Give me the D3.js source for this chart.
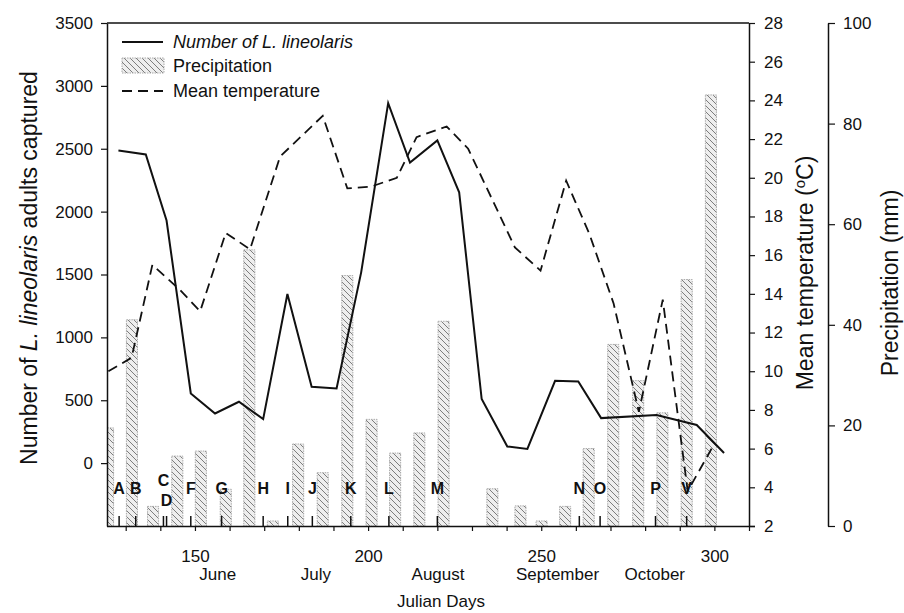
<!DOCTYPE html>
<html>
<head>
<meta charset="utf-8">
<script src="https://cdn.jsdelivr.net/npm/d3@7/dist/d3.min.js"></script>
<style>
  html, body { margin: 0; padding: 0; background: #fff; }
  svg { display: block; }
  text { font-family: "Liberation Sans", Arial, Helvetica, sans-serif; fill: #111; }
</style>
</head>
<body>
<svg id="chart" width="904" height="613"></svg>
<script>
// ---------------- data ----------------
const captureDays   = [127.9, 135.8, 141.8, 148.8, 155.8, 162.7, 169.7, 176.7, 183.7, 190.9, 198.0, 205.8, 212.1, 220.0, 226.3, 232.8, 240.2, 246.0, 254.0, 260.7, 267.3, 283.3, 294.9, 302.8];
const captureCounts = [2486, 2455, 1929, 554, 395, 488, 350, 1345, 607, 594, 1517, 2863, 2390, 2566, 2154, 510, 132, 113, 655, 650, 358, 382, 303, 80];

const tempDays  = [125.0, 131.7, 137.7, 145.7, 151.5, 158.9, 165.9, 174.6, 186.9, 194.0, 201.0, 208.3, 214.0, 222.7, 228.9, 242.4, 249.8, 257.2, 263.9, 270.9, 278.2, 285.1, 292.3, 299.2];
const tempMeans = [10.0, 10.7, 15.5, 14.2, 13.1, 17.15, 16.3, 21.1, 23.2, 19.45, 19.55, 20.0, 22.1, 22.65, 21.5, 16.4, 15.2, 19.85, 17.1, 13.5, 7.9, 13.7, 3.8, 6.0];

const precipDays = [124.9, 131.8, 137.9, 144.9, 151.7, 158.9, 165.7, 172.5, 179.8, 186.9, 194.0, 201.0, 207.8, 214.8, 221.8, 235.9, 244.0, 250.1, 256.9, 263.7, 270.8, 278.0, 285.0, 292.0, 299.0];
const precipMM   = [19.5, 41.0, 3.9, 13.9, 14.9, 7.3, 54.9, 1.0, 16.3, 10.6, 49.8, 21.2, 14.5, 18.5, 40.7, 7.4, 4.0, 1.0, 3.9, 15.4, 36.1, 28.9, 22.5, 49.0, 85.7];

const sampleLetters = ["A", "B", "C", "D", "F", "G", "H", "I", "J", "K", "L", "M", "N", "O", "P", "V"];
const sampleDays    = [128.1, 132.9, 140.9, 141.8, 148.8, 157.7, 169.7, 176.8, 183.9, 195.0, 206.0, 220.0, 261.0, 267.0, 283.0, 292.0];

const xTickValues   = [130, 140, 150, 160, 170, 180, 190, 200, 210, 220, 230, 240, 250, 260, 270, 280, 290, 300, 310];
const xLabelValues  = [150, 200, 250, 300];
const monthNames    = ["June", "July", "August", "September", "October"];
const monthDays     = [156.6, 184.9, 220.2, 254.7, 282.8];
const countTicks    = [0, 500, 1000, 1500, 2000, 2500, 3000, 3500];
const tempTicks     = [2, 4, 6, 8, 10, 12, 14, 16, 18, 20, 22, 24, 26, 28];
const precipTicks   = [0, 20, 40, 60, 80, 100];

// ---------------- layout ----------------
const svg = d3.select("#chart");
const L = 107, R = 749, T = 23, B = 526;
const FONT = '"Liberation Sans", Arial, Helvetica, sans-serif';

const x = d3.scaleLinear().domain([124.6, 310]).range([L, R]);
const yCount = d3.scaleLinear().domain([-500, 3500]).range([B, T]);
const yTemp = d3.scaleLinear().domain([2, 28]).range([B, T]);
const yPrec = d3.scaleLinear().domain([0, 100]).range([B, T]);

const defs = svg.append("defs");
const pat = defs.append("pattern").attr("id", "hatch")
  .attr("patternUnits", "userSpaceOnUse").attr("width", 6).attr("height", 6);
pat.append("rect").attr("width", 6).attr("height", 6).attr("fill", "#eeeeee");
pat.append("path").attr("d", "M0,0 L6,6 M-1,5 L1,7 M5,-1 L7,1")
  .attr("stroke", "#7d7d7d").attr("stroke-width", 1);

defs.append("clipPath").attr("id", "plotclip")
  .append("rect").attr("x", L).attr("y", T - 2).attr("width", R - L).attr("height", B - T + 2);

const plot = svg.append("g").attr("clip-path", "url(#plotclip)");

// precipitation bars
const barHalf = 1.6; // days
plot.selectAll("rect.bar").data(precipDays.map((d, i) => ({ d, v: precipMM[i] })))
  .enter().append("rect").attr("class", "bar")
  .attr("x", p => x(p.d - barHalf))
  .attr("width", p => x(p.d + barHalf) - x(p.d - barHalf))
  .attr("y", p => yPrec(p.v))
  .attr("height", p => B - yPrec(p.v))
  .attr("fill", "url(#hatch)")
  .attr("stroke", "#aaaaaa").attr("stroke-width", 1).attr("stroke-dasharray", "1.5,1");

// temperature dashed line
const tempLine = d3.line().x(d => x(d[0])).y(d => yTemp(d[1]));
plot.append("path").datum(tempDays.map((d, i) => [d, tempMeans[i]]))
  .attr("d", tempLine).attr("fill", "none")
  .attr("stroke", "#111").attr("stroke-width", 1.8).attr("stroke-dasharray", "10,6");

// capture solid line
const capLine = d3.line().x(d => x(d[0])).y(d => yCount(d[1]));
plot.append("path").datum(captureDays.map((d, i) => [d, captureCounts[i]]))
  .attr("d", capLine).attr("fill", "none")
  .attr("stroke", "#111").attr("stroke-width", 2).attr("stroke-linejoin", "miter");

// sampling letters with small ticks
const letterG = svg.append("g");
sampleLetters.forEach((s, i) => {
  const px = x(sampleDays[i]);
  letterG.append("line").attr("x1", px).attr("x2", px).attr("y1", B).attr("y2", B - 10)
    .attr("stroke", "#111").attr("stroke-width", 1.5);
  let dy = 0;
  const prevClose = i > 0 && Math.abs(sampleDays[i] - sampleDays[i - 1]) < 2;
  const nextClose = i < sampleDays.length - 1 && Math.abs(sampleDays[i + 1] - sampleDays[i]) < 2;
  if (nextClose) dy = -8;
  if (prevClose) dy = 12;
  letterG.append("text").attr("x", px).attr("y", 494 + dy)
    .attr("text-anchor", "middle").attr("font-size", 16).attr("font-weight", "bold")
    .text(s);
});

// top frame
svg.append("line").attr("x1", L).attr("x2", R).attr("y1", T).attr("y2", T)
  .attr("stroke", "#111").attr("stroke-width", 1.5);

// axes
function styleAxis(g, fs) {
  g.selectAll("path.domain").attr("stroke", "#111").attr("stroke-width", 1.5);
  g.selectAll(".tick line").attr("stroke", "#111").attr("stroke-width", 1.2);
  g.selectAll(".tick text").attr("font-size", fs).attr("font-family", FONT).attr("fill", "#111");
}
const fmt = d3.format("d");

const xAxis = d3.axisBottom(x).tickValues(xTickValues)
  .tickFormat(d => xLabelValues.includes(d) ? fmt(d) : "").tickSize(5).tickSizeOuter(0).tickPadding(19);
const gx = svg.append("g").attr("transform", `translate(0,${B})`).call(xAxis);
styleAxis(gx, 17);
gx.select("path.domain").attr("d", `M${L},0.5H${R + 6}`);

const yAxisL = d3.axisLeft(yCount).tickValues(countTicks).tickFormat(fmt).tickSize(6).tickSizeOuter(0).tickPadding(8);
const gl = svg.append("g").attr("transform", `translate(${L},0)`).call(yAxisL);
styleAxis(gl, 17);

const yAxisT = d3.axisRight(yTemp).tickValues(tempTicks).tickFormat(fmt).tickSize(6).tickSizeOuter(0).tickPadding(9);
const gt = svg.append("g").attr("transform", `translate(${R},0)`).call(yAxisT);
styleAxis(gt, 17);

const yAxisP = d3.axisRight(yPrec).tickValues(precipTicks).tickFormat(fmt).tickSize(7).tickSizeOuter(0).tickPadding(8);
const gp = svg.append("g").attr("transform", `translate(828,0)`).call(yAxisP);
styleAxis(gp, 17);

// month labels
svg.selectAll("text.month").data(monthNames).enter().append("text").attr("class", "month")
  .attr("x", (m, i) => x(monthDays[i])).attr("y", 580)
  .attr("text-anchor", "middle").attr("font-size", 17).text(m => m);

// axis titles
svg.append("text").attr("x", 441).attr("y", 607).attr("text-anchor", "middle")
  .attr("font-size", 17).text("Julian Days");

const lt = svg.append("text").attr("transform", `translate(37,268) rotate(-90)`)
  .attr("text-anchor", "middle").attr("font-size", 23);
lt.append("tspan").text("Number of ");
lt.append("tspan").attr("font-style", "italic").text("L. lineolaris");
lt.append("tspan").text(" adults captured");

const tt = svg.append("text").attr("transform", `translate(813,273) rotate(-90)`)
  .attr("text-anchor", "middle").attr("font-size", 23);
tt.append("tspan").text("Mean temperature (");
tt.append("tspan").attr("font-size", 15).attr("dy", -8).text("o");
tt.append("tspan").attr("dy", 8).text("C)");

svg.append("text").attr("transform", `translate(898,283) rotate(-90)`)
  .attr("text-anchor", "middle").attr("font-size", 23).text("Precipitation (mm)");

// legend
const lg = svg.append("g");
lg.append("line").attr("x1", 122).attr("x2", 163).attr("y1", 42).attr("y2", 42)
  .attr("stroke", "#111").attr("stroke-width", 2);
lg.append("text").attr("x", 173).attr("y", 48).attr("font-size", 18)
  .attr("font-style", "italic").text("Number of L. lineolaris");
lg.append("rect").attr("x", 122).attr("y", 58).attr("width", 42).attr("height", 15)
  .attr("fill", "url(#hatch)").attr("stroke", "#aaaaaa").attr("stroke-dasharray", "1.5,1");
lg.append("text").attr("x", 173).attr("y", 72).attr("font-size", 18).text("Precipitation");
lg.append("line").attr("x1", 122).attr("x2", 163).attr("y1", 91).attr("y2", 91)
  .attr("stroke", "#111").attr("stroke-width", 1.8).attr("stroke-dasharray", "10,6");
lg.append("text").attr("x", 173).attr("y", 97).attr("font-size", 18).text("Mean temperature");
</script>
</body>
</html>
